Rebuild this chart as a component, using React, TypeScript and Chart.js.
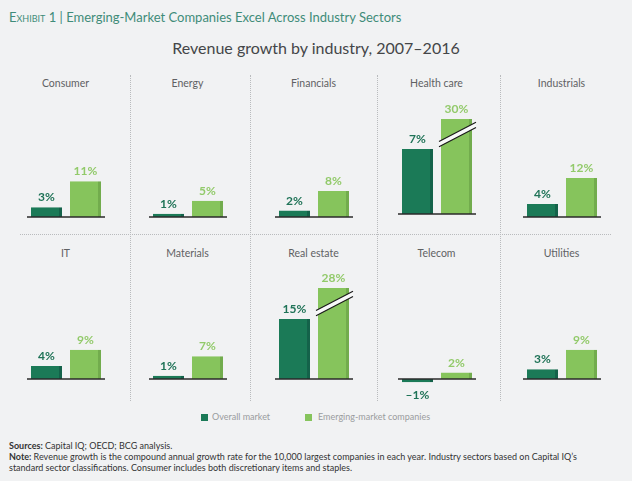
import React, { useEffect, useRef } from "react";
import { Chart, registerables } from "chart.js";

Chart.register(...registerables);

// ---------- data ----------
const sectors = [
  "Consumer",
  "Energy",
  "Financials",
  "Health care",
  "Industrials",
  "IT",
  "Materials",
  "Real estate",
  "Telecom",
  "Utilities",
];
const overallMarket = [3, 1, 2, 7, 4, 4, 1, 15, -1, 3];
const emergingMarket = [11, 5, 8, 30, 12, 9, 7, 28, 2, 9];
const seriesLabels = ["Overall market", "Emerging-market companies"];

// ---------- layout / scale settings (not data) ----------
const axisMax = [14, 14, 14, 10.23, 14, 14, 14, 22.75, 14, 14];
const pxPerUnit = [3.25, 3.25, 3.25, 9.29, 3.25, 3.25, 3.25, 4, 3.25, 3.25];
const baselineY = [217, 217, 217, 214, 217, 379, 379, 379, 379, 379];
const panelCenters = [65.5, 187.5, 313.5, 436.5, 561.5];

const FONT = "Lato, 'Open Sans', 'Noto Sans', sans-serif";
const BG = "#f1f2f3";
const DARK = "#1b7a57";
const DARK_EDGE = "#14624a";
const LIGHT = "#86c45c";
const LIGHT_EDGE = "#72ac4d";
const DARK_TXT = "#1f7357";
const LIGHT_TXT = "#92ca6a";

const fmt = (v: number) => (v < 0 ? `\u2013${-v}%` : `${v}%`);

const decorPlugin = {
  id: "panelDecor",
  afterDatasetsDraw(chart: any) {
    const { ctx, chartArea, scales } = chart;
    const y = scales.y;
    const y0 = y.getPixelForValue(0);
    ctx.save();
    // baseline
    ctx.strokeStyle = "#2a2a2a";
    ctx.lineWidth = 1.3;
    ctx.beginPath();
    ctx.moveTo(chartArea.left, y0);
    ctx.lineTo(chartArea.right, y0);
    ctx.stroke();

    chart.data.datasets.forEach((ds: any, di: number) => {
      const meta = chart.getDatasetMeta(di);
      meta.data.forEach((bar: any, idx: number) => {
        const v = ds.data[idx] as number;
        const broken = v > y.max;
        const top = broken ? chartArea.top : bar.y;
        if (broken) {
          const half = bar.width / 2;
          const x1 = bar.x - half - 2;
          const x2 = bar.x + half + 4;
          const cy = chartArea.top + 16;
          const slope = 0.52;
          const gap = 2.6;
          const yAt = (x: number, off: number) => cy - slope * (x - bar.x) + off;
          ctx.fillStyle = "#f8f9f9";
          ctx.beginPath();
          ctx.moveTo(x1, yAt(x1, -gap));
          ctx.lineTo(x2, yAt(x2, -gap));
          ctx.lineTo(x2, yAt(x2, gap));
          ctx.lineTo(x1, yAt(x1, gap));
          ctx.closePath();
          ctx.fill();
          ctx.strokeStyle = "#1a1a1a";
          ctx.lineWidth = 1.2;
          ctx.beginPath();
          ctx.moveTo(x1, yAt(x1, -gap));
          ctx.lineTo(x2, yAt(x2, -gap));
          ctx.moveTo(x1, yAt(x1, gap));
          ctx.lineTo(x2, yAt(x2, gap));
          ctx.stroke();
        }
        ctx.fillStyle = ds.labelColor;
        ctx.font = `bold 12px ${FONT}`;
        ctx.textAlign = "center";
        ctx.textBaseline = "alphabetic";
        if (v >= 0) {
          ctx.fillText(fmt(v), bar.x, top - 6);
        } else {
          ctx.fillText(fmt(v), bar.x, bar.y + 17);
        }
      });
    });
    ctx.restore();
  },
};

function Panel({ i }: { i: number }) {
  const ref = useRef<HTMLCanvasElement>(null);
  const row = Math.floor(i / 5);
  const col = i % 5;
  const cx = panelCenters[col];
  const canvasTop = row === 0 ? 92 : 262;
  const H = 142;
  const W = 110;
  const ppp = pxPerUnit[i];
  const base = baselineY[i];
  const ymax = axisMax[i];
  const below = 4.2;
  const ymin = -below / ppp;
  const padTop = base - ymax * ppp - canvasTop;
  const padBottom = canvasTop + H - (base + below);

  useEffect(() => {
    const chart = new Chart(ref.current as HTMLCanvasElement, {
      type: "bar",
      data: {
        labels: [sectors[i]],
        datasets: [
          {
            label: seriesLabels[0],
            data: [overallMarket[i]],
            backgroundColor: DARK,
            borderColor: DARK_EDGE,
            borderWidth: { top: 0, right: 3, bottom: 0, left: 0 },
            borderSkipped: false,
            clip: 0,
            labelColor: DARK_TXT,
          } as any,
          {
            label: seriesLabels[1],
            data: [emergingMarket[i]],
            backgroundColor: LIGHT,
            borderColor: LIGHT_EDGE,
            borderWidth: { top: 0, right: 3, bottom: 0, left: 0 },
            borderSkipped: false,
            clip: 0,
            labelColor: LIGHT_TXT,
          } as any,
        ],
      },
      options: {
        animation: false,
        responsive: false,
        maintainAspectRatio: false,
        devicePixelRatio: 1,
        layout: { padding: { top: padTop, bottom: padBottom, left: 16, right: 16 } },
        plugins: {
          legend: { display: false },
          tooltip: { enabled: false },
          title: { display: false },
        },
        scales: {
          x: { display: false, grid: { display: false } },
          y: { display: false, min: ymin, max: ymax },
        },
        datasets: { bar: { categoryPercentage: 1, barPercentage: 31 / 39 } },
      } as any,
      plugins: [decorPlugin],
    });
    return () => chart.destroy();
  }, []);

  return (
    <>
      <div
        style={{
          position: "absolute",
          left: cx - 60,
          width: 120,
          top: row === 0 ? 75 : 245,
          textAlign: "center",
          fontSize: 10.5,
          lineHeight: "16px",
          color: "#5f6163",
          fontFamily: FONT,
        }}
      >
        {sectors[i]}
      </div>
      <canvas
        ref={ref}
        width={W}
        height={H}
        style={{ position: "absolute", left: cx - W / 2, top: canvasTop, width: W, height: H }}
      />
    </>
  );
}

const dividerX = [130, 250, 377, 500];

export default function App() {
  return (
    <div
      style={{
        position: "absolute",
        left: 0,
        top: 0,
        width: 632,
        height: 481,
        background: BG,
        overflow: "hidden",
        fontFamily: FONT,
      }}
    >
      <div
        style={{
          position: "absolute",
          left: 9,
          top: 8,
          fontSize: 13,
          lineHeight: "18px",
          color: "#3f8c79",
          whiteSpace: "nowrap",
        }}
      >
        <span style={{ fontVariant: "small-caps" }}>Exhibit 1</span> | Emerging-Market Companies
        Excel Across Industry Sectors
      </div>
      <div
        style={{
          position: "absolute",
          left: 0,
          width: 632,
          top: 37,
          textAlign: "center",
          fontSize: 16,
          lineHeight: "22px",
          color: "#444648",
        }}
      >
        Revenue growth by industry, 2007–2016
      </div>

      {dividerX.map((x) => (
        <div
          key={x}
          style={{
            position: "absolute",
            left: x,
            top: 75,
            height: 326,
            width: 0,
            borderLeft: "1px dotted #b9bbbd",
          }}
        />
      ))}
      <div
        style={{
          position: "absolute",
          left: 20,
          width: 591,
          top: 234,
          height: 0,
          borderTop: "1px dotted #b9bbbd",
        }}
      />

      {sectors.map((_, i) => (
        <Panel key={i} i={i} />
      ))}

      {/* legend */}
      <div style={{ position: "absolute", left: 201, top: 414, width: 7, height: 7, background: DARK }} />
      <div
        style={{
          position: "absolute",
          left: 212,
          top: 411,
          fontSize: 9,
          lineHeight: "12px",
          color: "#9a9c9e",
          whiteSpace: "nowrap",
        }}
      >
        {seriesLabels[0]}
      </div>
      <div style={{ position: "absolute", left: 305, top: 414, width: 7, height: 7, background: LIGHT }} />
      <div
        style={{
          position: "absolute",
          left: 318,
          top: 411,
          fontSize: 9,
          lineHeight: "12px",
          color: "#9a9c9e",
          whiteSpace: "nowrap",
        }}
      >
        {seriesLabels[1]}
      </div>

      {/* sources */}
      <div
        style={{
          position: "absolute",
          left: 9,
          top: 440,
          fontSize: 9,
          lineHeight: "11px",
          color: "#333",
          whiteSpace: "nowrap",
        }}
      >
        <b>Sources:</b> Capital IQ; OECD; BCG analysis.
        <br />
        <b>Note:</b> Revenue growth is the compound annual growth rate for the 10,000 largest companies in
        each year. Industry sectors based on Capital IQ’s
        <br />
        standard sector classifications. Consumer includes both discretionary items and staples.
      </div>
    </div>
  );
}
